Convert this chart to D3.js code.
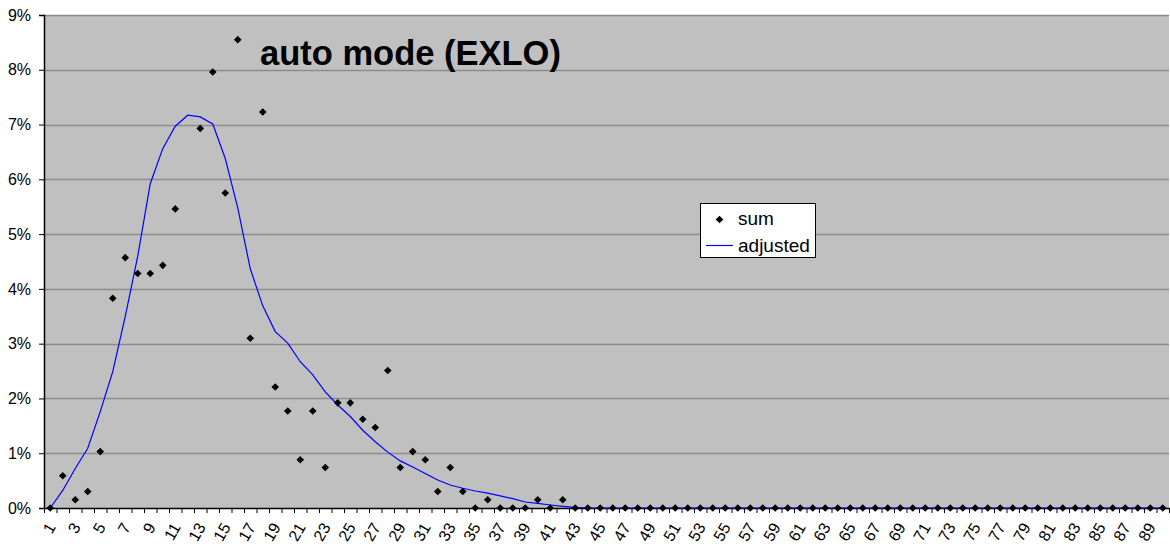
<!DOCTYPE html>
<html>
<head>
<meta charset="utf-8">
<script src="https://cdn.jsdelivr.net/npm/d3@7"></script>
<style>
  body { margin: 0; background: #fff; }
  svg { display: block; font-family: "Liberation Sans", Arial, sans-serif; }
</style>
</head>
<body>
<svg id="chart"></svg>
<script>
// categories 1..90
var categories = d3.range(1, 91);

// "sum" series, in percent (category 12 lies above the 9% axis max and is clipped)
var sumValues = [
  0, 0.59, 0.15, 0.30, 1.03, 3.83, 4.57, 4.28, 4.28, 4.43,
  5.46, 10.3, 6.93, 7.96, 5.75, 8.55, 3.10, 7.23, 2.21, 1.77,
  0.88, 1.77, 0.74, 1.92, 1.92, 1.62, 1.47, 2.51, 0.74, 1.03,
  0.88, 0.30, 0.74, 0.30, 0, 0.15, 0, 0, 0, 0.15,
  0, 0.15, 0, 0, 0, 0, 0, 0, 0, 0,
  0, 0, 0, 0, 0, 0, 0, 0, 0, 0,
  0, 0, 0, 0, 0, 0, 0, 0, 0, 0,
  0, 0, 0, 0, 0, 0, 0, 0, 0, 0,
  0, 0, 0, 0, 0, 0, 0, 0, 0, 0
];

// "adjusted" series, in percent
var adjustedValues = [
  0, 0.32, 0.72, 1.09, 1.76, 2.49, 3.50, 4.60, 5.92, 6.56,
  6.97, 7.17, 7.14, 7.01, 6.38, 5.48, 4.37, 3.69, 3.22, 3.01,
  2.67, 2.43, 2.12, 1.88, 1.67, 1.42, 1.21, 1.02, 0.86, 0.75,
  0.63, 0.51, 0.42, 0.36, 0.31, 0.27, 0.22, 0.17, 0.11, 0.085,
  0.055, 0.03, 0.01, 0, 0, 0, 0, 0, 0, 0,
  0, 0, 0, 0, 0, 0, 0, 0, 0, 0,
  0, 0, 0, 0, 0, 0, 0, 0, 0, 0,
  0, 0, 0, 0, 0, 0, 0, 0, 0, 0,
  0, 0, 0, 0, 0, 0, 0, 0, 0, 0
];

var yTicks = [0, 1, 2, 3, 4, 5, 6, 7, 8, 9];
var seriesNames = ['sum', 'adjusted'];
var chartTitle = 'auto mode (EXLO)';

var width = 1170, height = 546;
var plot = {left: 44, right: 1169, top: 15, bottom: 508};

var svg = d3.select('svg#chart')
    .attr('width', width)
    .attr('height', height)
    .attr('viewBox', '0 0 ' + width + ' ' + height);

var x = d3.scaleBand()
    .domain(categories)
    .range([plot.left, plot.right])
    .padding(0);
// category boundaries, for the tick marks between categories
var xEdge = d3.scaleLinear()
    .domain([0, categories.length])
    .range([plot.left, plot.right]);
var y = d3.scaleLinear()
    .domain([0, 9])
    .range([plot.bottom, plot.top]);

// plot background
svg.append('rect')
    .attr('x', plot.left)
    .attr('y', plot.top)
    .attr('width', plot.right - plot.left)
    .attr('height', plot.bottom - plot.top)
    .style('fill', '#c0c0c0');

svg.append('clipPath').attr('id', 'plotClip')
  .append('rect')
    .attr('x', plot.left - 5)
    .attr('y', plot.top)
    .attr('width', plot.right - plot.left + 10)
    .attr('height', plot.bottom - plot.top + 5);

// gridlines
svg.append('g')
    .selectAll('line')
    .data(yTicks.slice(1))
    .join('line')
    .attr('x1', plot.left)
    .attr('x2', plot.right)
    .attr('y1', function(d){ return Math.round(y(d)) + 0.5; })
    .attr('y2', function(d){ return Math.round(y(d)) + 0.5; })
    .style('stroke', '#8c8c8c')
    .style('stroke-width', 1.3);

// y axis
var yAxis = svg.append('g')
    .attr('transform', 'translate(' + plot.left + ',0)')
    .call(d3.axisLeft(y)
        .tickValues(yTicks)
        .tickSize(5)
        .tickPadding(8)
        .tickFormat(function(d){ return d + '%'; }));
yAxis.select('.domain').style('stroke', '#000').style('stroke-width', 1.5);
yAxis.selectAll('.tick line').style('stroke', '#000');
yAxis.selectAll('.tick text')
    .style('font-size', '16px')
    .style('fill', '#000')
    .style('font-family', '"Liberation Sans", Arial, sans-serif');

// x axis tick marks on category boundaries
var xTickAxis = svg.append('g')
    .attr('transform', 'translate(0,' + plot.bottom + ')')
    .call(d3.axisBottom(xEdge)
        .tickValues(d3.range(categories.length + 1))
        .tickSize(5)
        .tickSizeOuter(0)
        .tickFormat(''));
xTickAxis.select('.domain').style('stroke', '#000').style('stroke-width', 1.5);
xTickAxis.selectAll('.tick line').style('stroke', '#000');

// x axis labels on odd categories
var xLabelAxis = svg.append('g')
    .attr('transform', 'translate(0,' + plot.bottom + ')')
    .call(d3.axisBottom(x)
        .tickValues(categories.filter(function(d){ return d % 2 === 1; }))
        .tickSize(0)
        .tickPadding(0));
xLabelAxis.select('.domain').remove();
xLabelAxis.selectAll('.tick text')
    .attr('y', 0)
    .attr('dy', 0)
    .attr('text-anchor', 'end')
    .attr('transform', 'translate(6,19) rotate(-60)')
    .style('font-size', '16px')
    .style('fill', '#000')
    .style('font-family', '"Liberation Sans", Arial, sans-serif');

// adjusted line
var line = d3.line()
    .x(function(d, i){ return x(categories[i]) + x.bandwidth() / 2; })
    .y(function(d){ return y(d); });

svg.append('path')
    .datum(adjustedValues)
    .attr('d', line)
    .attr('clip-path', 'url(#plotClip)')
    .style('fill', 'none')
    .style('stroke', '#0000ff')
    .style('stroke-width', 1.2);

// sum markers
var diamond = 'M0,-3.8L3.8,0L0,3.8L-3.8,0Z';
svg.append('g')
    .attr('clip-path', 'url(#plotClip)')
    .selectAll('path')
    .data(sumValues)
    .join('path')
    .attr('d', diamond)
    .attr('transform', function(d, i){
        return 'translate(' + (x(categories[i]) + x.bandwidth() / 2) + ',' + y(d) + ')';
    })
    .style('fill', '#000');

// title
svg.append('text')
    .attr('x', 260)
    .attr('y', 65)
    .text(chartTitle)
    .style('font-size', '34.5px')
    .style('font-weight', 'bold')
    .style('fill', '#000');

// legend
var legend = svg.append('g').attr('transform', 'translate(700,203)');
legend.append('rect')
    .attr('x', 0.5)
    .attr('y', 0.5)
    .attr('width', 115)
    .attr('height', 54)
    .style('fill', '#fff')
    .style('stroke', '#000')
    .style('stroke-width', 1);
legend.append('path')
    .attr('d', diamond)
    .attr('transform', 'translate(19.5,16.5)')
    .style('fill', '#000');
legend.append('line')
    .attr('x1', 6)
    .attr('x2', 33)
    .attr('y1', 42.5)
    .attr('y2', 42.5)
    .style('stroke', '#0000ff')
    .style('stroke-width', 1.2);
legend.selectAll('text')
    .data(seriesNames)
    .join('text')
    .attr('x', 38)
    .attr('y', function(d, i){ return 22 + i * 26.5; })
    .text(function(d){ return d; })
    .style('font-size', '19px')
    .style('fill', '#000');
</script>
</body>
</html>
